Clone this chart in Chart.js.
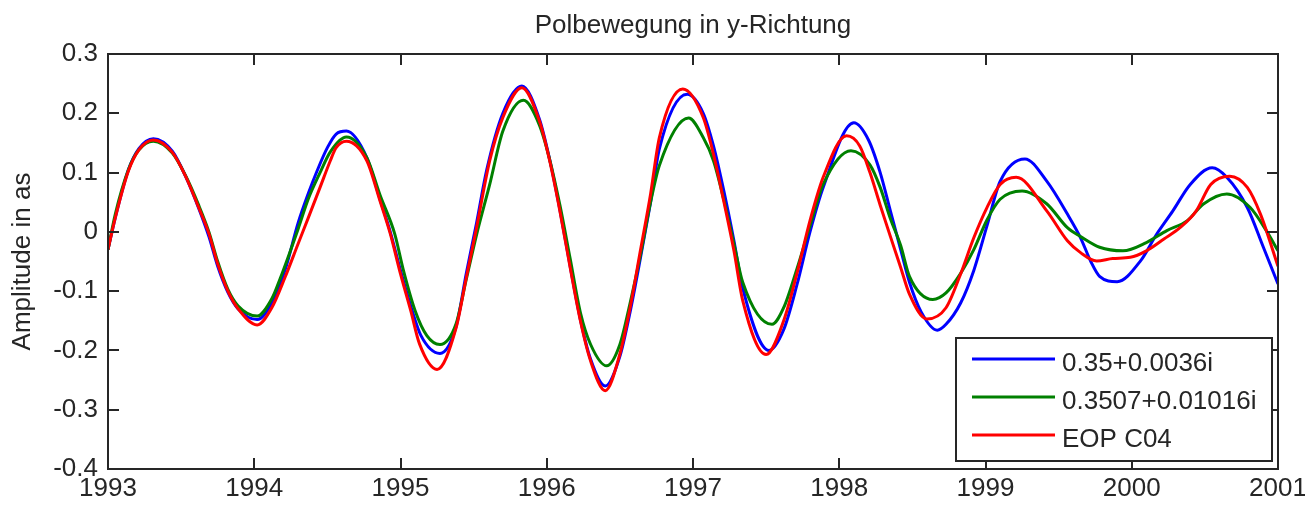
<!DOCTYPE html>
<html>
<head>
<meta charset="utf-8">
<title>Polbewegung in y-Richtung</title>
<script src="https://cdn.jsdelivr.net/npm/chart.js@4.4.1/dist/chart.umd.min.js"></script>
<style>
    html, body { margin: 0; padding: 0; background: #fff; }
    #wrap { width: 1305px; height: 505px; }
</style>
</head>
<body>
<div id="wrap"><canvas id="chartPol" width="1305" height="505"></canvas></div>
<script>
// Beschriftung
const chartTitle = 'Polbewegung in y-Richtung';
const yTitle = 'Amplitude in as';
const seriesLabels = ['0.35+0.0036i', '0.3507+0.01016i', 'EOP C04'];

// Achsen
const xTicks = [1993, 1994, 1995, 1996, 1997, 1998, 1999, 2000, 2001];
const xTickLabels = ['1993', '1994', '1995', '1996', '1997', '1998', '1999', '2000', '2001'];
const yTicks = [-0.4, -0.3, -0.2, -0.1, 0, 0.1, 0.2, 0.3];
const yTickLabels = ['-0.4', '-0.3', '-0.2', '-0.1', '0', '0.1', '0.2', '0.3'];

// Serie 1: 0.35+0.0036i (blau)
const blueYears = [1993.00, 1993.05, 1993.14, 1993.21, 1993.31, 1993.44, 1993.53, 1993.62, 1993.69, 1993.75,
    1993.82, 1993.89, 1994.02, 1994.12, 1994.21, 1994.30, 1994.37, 1994.43, 1994.50, 1994.56,
    1994.63, 1994.77, 1994.86, 1994.93, 1995.00, 1995.07, 1995.14, 1995.27, 1995.38, 1995.45,
    1995.52, 1995.59, 1995.70, 1995.83, 1995.95, 1996.02, 1996.09, 1996.16, 1996.23, 1996.30,
    1996.40, 1996.50, 1996.57, 1996.64, 1996.71, 1996.77, 1996.96, 1997.07, 1997.14, 1997.21,
    1997.28, 1997.34, 1997.52, 1997.62, 1997.71, 1997.80, 1997.89, 1998.10, 1998.20, 1998.28,
    1998.35, 1998.42, 1998.48, 1998.56, 1998.67, 1998.73, 1998.83, 1998.92, 1999.01, 1999.10,
    1999.27, 1999.42, 1999.56, 1999.65, 1999.72, 1999.78, 1999.90, 2000.06, 2000.17, 2000.28,
    2000.40, 2000.55, 2000.65, 2000.79, 2000.90, 2001.00];
const blueValues = [-0.030, 0.024, 0.105, 0.140, 0.157, 0.136, 0.094, 0.040, -0.008, -0.058,
    -0.102, -0.130, -0.148, -0.120, -0.065, 0.015, 0.065, 0.103, 0.142, 0.165,
    0.170, 0.125, 0.055, 0.000, -0.065, -0.125, -0.175, -0.205, -0.160, -0.070,
    0.015, 0.105, 0.200, 0.246, 0.190, 0.122, 0.037, -0.058, -0.148, -0.215,
    -0.260, -0.210, -0.135, -0.045, 0.050, 0.140, 0.232, 0.200, 0.145, 0.070,
    -0.015, -0.095, -0.200, -0.165, -0.090, 0.000, 0.075, 0.184, 0.155, 0.100,
    0.035, -0.030, -0.085, -0.135, -0.166, -0.156, -0.120, -0.065, 0.010, 0.085,
    0.123, 0.085, 0.030, -0.010, -0.050, -0.075, -0.084, -0.049, -0.004, 0.035,
    0.080, 0.108, 0.092, 0.041, -0.026, -0.088];

// Serie 2: 0.3507+0.01016i (gruen)
const greenYears = [1993.00, 1993.05, 1993.14, 1993.21, 1993.31, 1993.44, 1993.53, 1993.62, 1993.69, 1993.75,
    1993.82, 1993.89, 1994.02, 1994.12, 1994.18, 1994.30, 1994.37, 1994.45, 1994.52, 1994.63,
    1994.77, 1994.86, 1994.96, 1995.02, 1995.10, 1995.18, 1995.27, 1995.38, 1995.45, 1995.52,
    1995.61, 1995.70, 1995.84, 1995.95, 1996.02, 1996.09, 1996.16, 1996.23, 1996.30, 1996.41,
    1996.50, 1996.57, 1996.64, 1996.71, 1996.77, 1996.97, 1997.07, 1997.14, 1997.21, 1997.28,
    1997.34, 1997.54, 1997.62, 1997.71, 1997.80, 1997.89, 1998.08, 1998.21, 1998.28, 1998.35,
    1998.42, 1998.48, 1998.64, 1998.73, 1998.83, 1998.92, 1999.01, 1999.10, 1999.25, 1999.42,
    1999.56, 1999.65, 1999.78, 1999.94, 2000.10, 2000.24, 2000.38, 2000.49, 2000.65, 2000.81,
    2000.92, 2001.00];
const greenValues = [-0.030, 0.030, 0.105, 0.138, 0.153, 0.133, 0.095, 0.045, 0.000, -0.050,
    -0.097, -0.125, -0.142, -0.113, -0.077, 0.005, 0.056, 0.100, 0.135, 0.160,
    0.125, 0.062, -0.003, -0.065, -0.133, -0.175, -0.190, -0.155, -0.080, -0.005,
    0.080, 0.170, 0.222, 0.180, 0.122, 0.045, -0.045, -0.136, -0.190, -0.226,
    -0.190, -0.120, -0.040, 0.050, 0.112, 0.192, 0.159, 0.120, 0.055, -0.020,
    -0.085, -0.156, -0.128, -0.063, 0.010, 0.080, 0.137, 0.113, 0.075, 0.022,
    -0.023, -0.075, -0.114, -0.103, -0.070, -0.030, 0.020, 0.055, 0.069, 0.047,
    0.007, -0.008, -0.026, -0.032, -0.018, 0.002, 0.019, 0.047, 0.064, 0.041,
    0.002, -0.032];

// Serie 3: EOP C04 (rot)
const redYears = [1993.00, 1993.05, 1993.14, 1993.21, 1993.31, 1993.44, 1993.53, 1993.62, 1993.69, 1993.75,
    1993.82, 1993.89, 1994.02, 1994.12, 1994.21, 1994.30, 1994.37, 1994.45, 1994.52, 1994.56,
    1994.63, 1994.77, 1994.86, 1994.93, 1995.00, 1995.07, 1995.13, 1995.25, 1995.38, 1995.45,
    1995.52, 1995.61, 1995.70, 1995.83, 1995.95, 1996.02, 1996.09, 1996.16, 1996.23, 1996.30,
    1996.40, 1996.50, 1996.57, 1996.64, 1996.71, 1996.77, 1996.93, 1997.07, 1997.14, 1997.21,
    1997.28, 1997.34, 1997.50, 1997.62, 1997.71, 1997.80, 1997.89, 1998.05, 1998.14, 1998.21,
    1998.28, 1998.35, 1998.42, 1998.48, 1998.60, 1998.73, 1998.83, 1998.92, 1999.01, 1999.10,
    1999.21, 1999.42, 1999.56, 1999.65, 1999.76, 1999.87, 1999.99, 2000.10, 2000.22, 2000.33,
    2000.44, 2000.54, 2000.67, 2000.79, 2000.88, 2001.00];
const redValues = [-0.030, 0.024, 0.103, 0.138, 0.155, 0.134, 0.094, 0.041, -0.003, -0.054,
    -0.100, -0.130, -0.157, -0.128, -0.077, -0.020, 0.024, 0.075, 0.120, 0.142,
    0.153, 0.120, 0.052, -0.003, -0.071, -0.133, -0.189, -0.232, -0.162, -0.077,
    0.007, 0.120, 0.193, 0.243, 0.187, 0.120, 0.035, -0.060, -0.150, -0.218,
    -0.268, -0.206, -0.128, -0.032, 0.064, 0.159, 0.241, 0.193, 0.131, 0.052,
    -0.032, -0.116, -0.207, -0.150, -0.071, 0.019, 0.092, 0.162, 0.145, 0.100,
    0.045, -0.008, -0.060, -0.105, -0.147, -0.128, -0.071, -0.010, 0.041, 0.080,
    0.092, 0.035, -0.015, -0.035, -0.049, -0.045, -0.043, -0.032, -0.012, 0.007,
    0.035, 0.080, 0.094, 0.075, 0.030, -0.058];

const textColor = '#262626';
const fontFamily = '"Liberation Sans", Arial, sans-serif';
const fontSize = 26;

const toPoints = (xs, ys) => xs.map((x, i) => ({ x: x, y: ys[i] }));

// Rahmen, Ticks nach innen, Titel und Legende wie in MATLAB
const matlabAxes = {
    id: 'matlabAxes',
    afterDraw(chart) {
        const { ctx, chartArea: a, scales } = chart;
        const tickLen = 11;
        ctx.save();
        ctx.strokeStyle = textColor;
        ctx.lineWidth = 2;
        ctx.strokeRect(a.left, a.top, a.right - a.left, a.bottom - a.top);
        ctx.beginPath();
        xTicks.forEach(v => {
            const px = Math.round(scales.x.getPixelForValue(v));
            ctx.moveTo(px, a.bottom); ctx.lineTo(px, a.bottom - tickLen);
            ctx.moveTo(px, a.top); ctx.lineTo(px, a.top + tickLen);
        });
        yTicks.forEach(v => {
            const py = Math.round(scales.y.getPixelForValue(v));
            ctx.moveTo(a.left, py); ctx.lineTo(a.left + tickLen, py);
            ctx.moveTo(a.right, py); ctx.lineTo(a.right - tickLen, py);
        });
        ctx.stroke();

        // Titel
        ctx.font = fontSize + 'px ' + fontFamily;
        ctx.fillStyle = textColor;
        ctx.textAlign = 'center';
        ctx.textBaseline = 'alphabetic';
        ctx.fillText(chartTitle, (a.left + a.right) / 2, 33);

        // Legende unten rechts
        const boxW = 316, boxH = 123;
        const bx = a.right - 6 - boxW;
        const by = a.bottom - 8 - boxH;
        ctx.fillStyle = '#fff';
        ctx.fillRect(bx, by, boxW, boxH);
        ctx.strokeRect(bx, by, boxW, boxH);
        ctx.textAlign = 'left';
        chart.data.datasets.forEach((ds, i) => {
            const ly = by + 21 + i * 38;
            ctx.strokeStyle = ds.borderColor;
            ctx.lineWidth = 3;
            ctx.beginPath();
            ctx.moveTo(bx + 16, ly);
            ctx.lineTo(bx + 99, ly);
            ctx.stroke();
            ctx.fillStyle = textColor;
            ctx.fillText(ds.label, bx + 106, ly + 12);
        });
        ctx.restore();
    }
};

const ctx = document.getElementById('chartPol').getContext('2d');
new Chart(ctx, {
    type: 'line',
    data: {
        datasets: [
            { label: seriesLabels[0], data: toPoints(blueYears, blueValues), borderColor: '#0000ff', order: 2 },
            { label: seriesLabels[1], data: toPoints(greenYears, greenValues), borderColor: '#008000', order: 1 },
            { label: seriesLabels[2], data: toPoints(redYears, redValues), borderColor: '#ff0000', order: 0 }
        ]
    },
    options: {
        responsive: false,
        animation: false,
        devicePixelRatio: 1,
        layout: { padding: { left: 0, top: 54, right: 27, bottom: 0 } },
        elements: {
            point: { radius: 0 },
            line: { borderWidth: 3, fill: false, cubicInterpolationMode: 'monotone' }
        },
        plugins: {
            legend: { display: false },
            tooltip: { enabled: false },
            title: { display: false }
        },
        scales: {
            x: {
                type: 'linear',
                min: 1993,
                max: 2001,
                grid: { display: false, drawTicks: false },
                border: { display: false },
                afterBuildTicks: s => { s.ticks = xTicks.map(v => ({ value: v })); },
                afterFit: s => { s.height = 36; s.paddingLeft = 0; s.paddingRight = 0; },
                ticks: {
                    padding: 4,
                    maxRotation: 0,
                    autoSkip: false,
                    color: textColor,
                    font: { family: fontFamily, size: fontSize },
                    callback: (v, i) => xTickLabels[i]
                }
            },
            y: {
                type: 'linear',
                min: -0.4,
                max: 0.3,
                grid: { display: false, drawTicks: false },
                border: { display: false },
                afterBuildTicks: s => { s.ticks = yTicks.map(v => ({ value: v })); },
                afterFit: s => { s.width = 108; s.paddingTop = 0; s.paddingBottom = 0; },
                ticks: {
                    padding: 10,
                    color: textColor,
                    font: { family: fontFamily, size: fontSize },
                    callback: (v, i) => yTickLabels[i]
                },
                title: {
                    display: true,
                    text: yTitle,
                    color: textColor,
                    font: { family: fontFamily, size: fontSize },
                    padding: { top: 7, bottom: 0 }
                }
            }
        }
    },
    plugins: [matlabAxes]
});
</script>
</body>
</html>
